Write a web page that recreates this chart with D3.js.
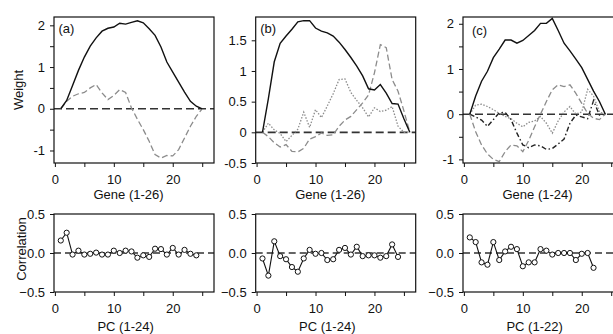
<!DOCTYPE html>
<html lang="en">
<head>
<meta charset="utf-8">
<title>Gene weights and PC correlations</title>
<script src="https://cdn.jsdelivr.net/npm/d3@7"></script>
<style type="text/css">
body {
	margin: 0px;
	padding: 0px;
	background-color: white;
	font-family: 'Liberation Sans', Arial, sans-serif;
}
svg {
	display: block;
}
.axis path {
	display: none;
}
.axis line {
	stroke: #111;
	stroke-width: 1px;
}
.axis text {
	font-family: 'Liberation Sans', Arial, sans-serif;
	font-size: 13px;
	fill: #111;
}
.label {
	font-size: 13px;
	fill: #111;
}
</style>
</head>
<body>
<div id="chart"></div>
<script type="text/javascript">

// weights per gene, gene number = index + 1
const weightA1 = [0, 0.2, 0.56, 0.92, 1.24, 1.5, 1.7, 1.86, 1.93, 1.96, 2.05, 2.03, 2.07, 2.11, 2.06, 1.92, 1.76, 1.48, 1.12, 0.88, 0.64, 0.4, 0.18, 0.06, 0];
const weightA2 = [0, 0.18, 0.3, 0.36, 0.39, 0.5, 0.58, 0.38, 0.22, 0.32, 0.46, 0.39, 0.02, -0.25, -0.5, -0.78, -1.1, -1.18, -1.12, -1.13, -0.98, -0.7, -0.42, -0.18, 0];

const weightB1 = [0, 0.55, 1.15, 1.45, 1.57, 1.68, 1.8, 1.82, 1.82, 1.7, 1.65, 1.62, 1.57, 1.47, 1.35, 1.22, 1.08, 0.92, 0.71, 0.69, 0.78, 0.64, 0.47, 0.46, 0.22, 0];
const weightB2 = [0, -0.07, -0.17, -0.24, -0.2, -0.31, -0.32, -0.26, -0.11, -0.07, -0.01, -0.05, -0.04, 0.1, 0.2, 0.26, 0.37, 0.48, 0.61, 0.97, 1.43, 1.38, 0.86, 0.67, 0.35, 0];
const weightB3 = [0, 0.15, 0.04, -0.02, -0.15, -0.05, 0.05, 0.33, 0.08, 0.37, 0.24, 0.43, 0.63, 0.86, 0.87, 0.65, 0.52, 0.4, 0.25, 0.4, 0.34, 0.36, 0.42, 0.1, 0, 0];

const weightC1 = [0, 0.4, 0.73, 0.95, 1.25, 1.44, 1.64, 1.64, 1.57, 1.63, 1.74, 1.85, 2.01, 2.01, 2.12, 1.85, 1.57, 1.4, 1.22, 1.03, 0.77, 0.51, 0.28, 0];
const weightC2 = [0, -0.39, -0.68, -0.88, -1.0, -1.05, -0.83, -0.68, -0.7, -0.83, -0.58, -0.28, 0, 0.28, 0.54, 0.65, 0.61, 0.65, 0.46, 0.24, 0.02, -0.09, -0.12, 0];
const weightC3 = [0, 0.2, 0.22, 0.17, 0.1, 0.02, -0.05, -0.1, -0.2, -0.28, -0.18, -0.15, -0.05, -0.2, -0.42, -0.15, 0.05, 0.17, 0, 0.05, 0.55, 0.4, 0.05, 0];
const weightC4 = [0, -0.06, -0.13, -0.27, -0.12, 0.03, 0.04, -0.12, -0.42, -0.68, -0.74, -0.68, -0.7, -0.78, -0.76, -0.66, -0.55, -0.2, -0.02, -0.06, -0.1, 0.3, -0.02, 0];

// correlation per PC, PC number = index + 1
const corrA = [0.16, 0.26, -0.02, 0.03, -0.02, -0.01, 0.005, -0.02, -0.02, 0.03, 0, 0.03, 0.02, -0.06, -0.03, -0.05, 0.055, 0.05, -0.02, 0.065, -0.02, 0.04, -0.01, -0.03];
const corrB = [-0.07, -0.29, 0.15, -0.04, -0.08, -0.18, -0.24, -0.07, 0.04, -0.01, 0, -0.09, -0.08, 0.04, 0.065, -0.02, 0.08, -0.04, -0.03, -0.03, -0.06, -0.04, 0.11, -0.05];
const corrC = [0.2, 0.14, -0.12, -0.15, 0.14, -0.09, 0.02, 0.08, 0.05, -0.17, -0.12, -0.12, 0.05, 0.03, -0.02, 0, 0, 0, -0.09, -0.01, 0, -0.19];

const panelNames = ["(a)", "(b)", "(c)"];
const geneLabels = ["Gene (1-26)", "Gene (1-26)", "Gene (1-24)"];
const pcLabels = ["PC (1-24)", "PC (1-24)", "PC (1-22)"];
const weightDomains = [[-1.3, 2.2], [-0.5, 1.88], [-1.08, 2.15]];
const weightTicks = [[-1, -0.5, 0, 0.5, 1, 1.5, 2], [-0.5, 0, 0.5, 1, 1.5], [-1, -0.5, 0, 0.5, 1, 1.5, 2]];
const weightLabelled = [[-1, 0, 1, 2], [-0.5, 0, 0.5, 1, 1.5], [-1, 0, 1, 2]];
const corrTicks = [-0.5, 0, 0.5];
const xTicks = [0, 5, 10, 15, 20, 25];
const xLabelled = [0, 10, 20];

const weightSeries = [
	[weightA1, weightA2],
	[weightB1, weightB2, weightB3],
	[weightC1, weightC2, weightC3, weightC4]
];
const corrSeries = [corrA, corrB, corrC];

// line styles: solid, grey dashed, grey dotted, black dash-dot
const styles = [
	{stroke: "#111", width: 1.4, dash: null},
	{stroke: "#8c8c8c", width: 1.3, dash: "6,3"},
	{stroke: "#8c8c8c", width: 1.3, dash: "1.5,1.6"},
	{stroke: "#222", width: 1.4, dash: "5,2.5,1.5,2.5"}
];

const width = 613,
	height = 334,
	panelLeft = [54, 255.7, 463],
	panelWidth = 160,
	topRow = [17, 163],
	bottomRow = [214, 292];

const svg = d3.select("#chart")
	.append("svg")
	.attr("width", width)
	.attr("height", height);

panelNames.forEach(function(name, p){
	createWeight(p);
	createCorr(p);
});

function createWeight(p){

	const xScale = d3.scaleLinear()
		.domain([-0.15, 27])
		.range([panelLeft[p], panelLeft[p] + panelWidth]);

	const yScale = d3.scaleLinear()
		.domain(weightDomains[p])
		.range([topRow[1], topRow[0]]);

	const xAxis = d3.axisBottom(xScale)
		.tickValues(xTicks)
		.tickSizeInner(4)
		.tickSizeOuter(0)
		.tickPadding(8)
		.tickFormat(function(d){
			return xLabelled.indexOf(d) > -1 ? d : "";
		});

	const yAxis = d3.axisLeft(yScale)
		.tickValues(weightTicks[p])
		.tickSizeInner(4)
		.tickSizeOuter(0)
		.tickPadding(5)
		.tickFormat(function(d){
			return weightLabelled[p].indexOf(d) > -1 ? d : "";
		});

	const g = svg.append("g");

	g.append("g")
		.attr("class", "axis")
		.attr("transform", "translate(0," + topRow[1] + ")")
		.call(xAxis);

	g.append("g")
		.attr("class", "axis")
		.attr("transform", "translate(" + panelLeft[p] + ",0)")
		.call(yAxis);

	g.append("line")
		.attr("x1", panelLeft[p])
		.attr("x2", panelLeft[p] + panelWidth)
		.attr("y1", yScale(0))
		.attr("y2", yScale(0))
		.style("stroke", "#333")
		.style("stroke-width", "1.6px")
		.style("stroke-dasharray", "8,4");

	const line = d3.line()
		.x(function(_, i){ return xScale(i + 1); })
		.y(function(d){ return yScale(d); });

	g.selectAll(null)
		.data(weightSeries[p].slice().reverse())
		.enter()
		.append("path")
		.attr("d", line)
		.style("fill", "none")
		.style("stroke", function(_, i, n){ return styles[n.length - 1 - i].stroke; })
		.style("stroke-width", function(_, i, n){ return styles[n.length - 1 - i].width; })
		.style("stroke-dasharray", function(_, i, n){ return styles[n.length - 1 - i].dash; });

	g.append("rect")
		.attr("x", panelLeft[p])
		.attr("y", topRow[0])
		.attr("width", panelWidth)
		.attr("height", topRow[1] - topRow[0])
		.style("fill", "none")
		.style("stroke", "#111")
		.style("stroke-width", "1.2px");

	g.append("text")
		.attr("class", "label")
		.attr("x", panelLeft[p] + (p === 2 ? 9 : 4.5))
		.attr("y", p === 2 ? 35 : 33)
		.text(panelNames[p]);

	g.append("text")
		.attr("class", "label")
		.attr("text-anchor", "middle")
		.attr("x", xScale(12.5))
		.attr("y", 199)
		.text(geneLabels[p]);

	if (p === 0) {
		g.append("text")
			.attr("class", "label")
			.attr("text-anchor", "middle")
			.attr("transform", "translate(23,90) rotate(-90)")
			.text("Weight");
	}

};

function createCorr(p){

	const xScale = d3.scaleLinear()
		.domain([-0.15, 27])
		.range([panelLeft[p], panelLeft[p] + panelWidth]);

	const yScale = d3.scaleLinear()
		.domain([-0.5, 0.5])
		.range([bottomRow[1], bottomRow[0]]);

	const xAxis = d3.axisBottom(xScale)
		.tickValues(xTicks)
		.tickSizeInner(4)
		.tickSizeOuter(0)
		.tickPadding(8)
		.tickFormat(function(d){
			return xLabelled.indexOf(d) > -1 ? d : "";
		});

	const yAxis = d3.axisLeft(yScale)
		.tickValues(corrTicks)
		.tickSizeInner(4)
		.tickSizeOuter(0)
		.tickPadding(5);

	const g = svg.append("g");

	g.append("g")
		.attr("class", "axis")
		.attr("transform", "translate(0," + bottomRow[1] + ")")
		.call(xAxis);

	g.append("g")
		.attr("class", "axis")
		.attr("transform", "translate(" + panelLeft[p] + ",0)")
		.call(yAxis);

	g.append("line")
		.attr("x1", panelLeft[p])
		.attr("x2", panelLeft[p] + panelWidth)
		.attr("y1", yScale(0))
		.attr("y2", yScale(0))
		.style("stroke", "#333")
		.style("stroke-width", "1.4px")
		.style("stroke-dasharray", "7,4");

	const line = d3.line()
		.x(function(_, i){ return xScale(i + 1); })
		.y(function(d){ return yScale(d); });

	g.append("path")
		.datum(corrSeries[p])
		.attr("d", line)
		.style("fill", "none")
		.style("stroke", "#111")
		.style("stroke-width", "1.1px");

	g.selectAll(null)
		.data(corrSeries[p])
		.enter()
		.append("circle")
		.attr("cx", function(_, i){ return xScale(i + 1); })
		.attr("cy", function(d){ return yScale(d); })
		.attr("r", 2.6)
		.style("fill", "white")
		.style("stroke", "#111")
		.style("stroke-width", "1px");

	g.append("rect")
		.attr("x", panelLeft[p])
		.attr("y", bottomRow[0])
		.attr("width", panelWidth)
		.attr("height", bottomRow[1] - bottomRow[0])
		.style("fill", "none")
		.style("stroke", "#111")
		.style("stroke-width", "1.2px");

	g.append("text")
		.attr("class", "label")
		.attr("text-anchor", "middle")
		.attr("x", xScale(12))
		.attr("y", 331)
		.text(pcLabels[p]);

	if (p === 0) {
		g.append("text")
			.attr("class", "label")
			.attr("text-anchor", "middle")
			.attr("transform", "translate(26,249) rotate(-90)")
			.text("Correlation");
	}

};

</script>
</body>
</html>
